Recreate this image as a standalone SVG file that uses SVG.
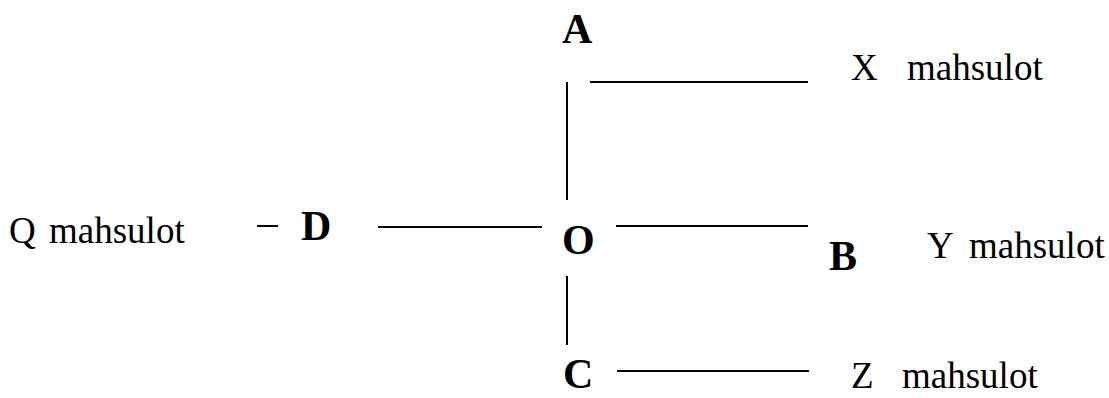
<svg xmlns="http://www.w3.org/2000/svg" width="1109" height="398" viewBox="0 0 1109 398">
<style>
.bg{fill:#fff}
text{font-family:'Liberation Serif','DejaVu Serif',serif;fill:#000}
.lbl{font-weight:bold;font-size:42px}
.txt{font-size:37px}
.ln{stroke:#000;stroke-width:2;fill:none}
</style>
<rect class="bg" x="0" y="0" width="1109" height="398"/>
<g id="connectors">
<line class="ln" x1="567" y1="82" x2="567" y2="200"/>
<line class="ln" x1="590" y1="82" x2="808" y2="82"/>
<line class="ln" x1="378" y1="227" x2="542" y2="227"/>
<line class="ln" x1="616" y1="226" x2="808" y2="226"/>
<line class="ln" x1="567" y1="276" x2="567" y2="345"/>
<line class="ln" x1="617" y1="371" x2="809" y2="371"/>
<line class="ln" x1="257" y1="226" x2="278" y2="226"/>
</g>
<g id="node-A"><text class="lbl" x="562" y="43">A</text></g>
<g id="node-O"><text class="lbl" x="562" y="254">O</text></g>
<g id="node-B"><text class="lbl" x="829" y="270">B</text></g>
<g id="node-C"><text class="lbl" x="563" y="388">C</text></g>
<g id="node-D"><text class="lbl" x="301" y="240">D</text></g>
<g id="node-X"><text class="txt" x="851" y="80">X<tspan x="907">mahsulot</tspan></text></g>
<g id="node-Y"><text class="txt" x="927" y="258">Y<tspan x="969">mahsulot</tspan></text></g>
<g id="node-Z"><text class="txt" x="851" y="388">Z<tspan x="902">mahsulot</tspan></text></g>
<g id="node-Q"><text class="txt" x="9" y="243">Q<tspan x="49">mahsulot</tspan></text></g>
</svg>
